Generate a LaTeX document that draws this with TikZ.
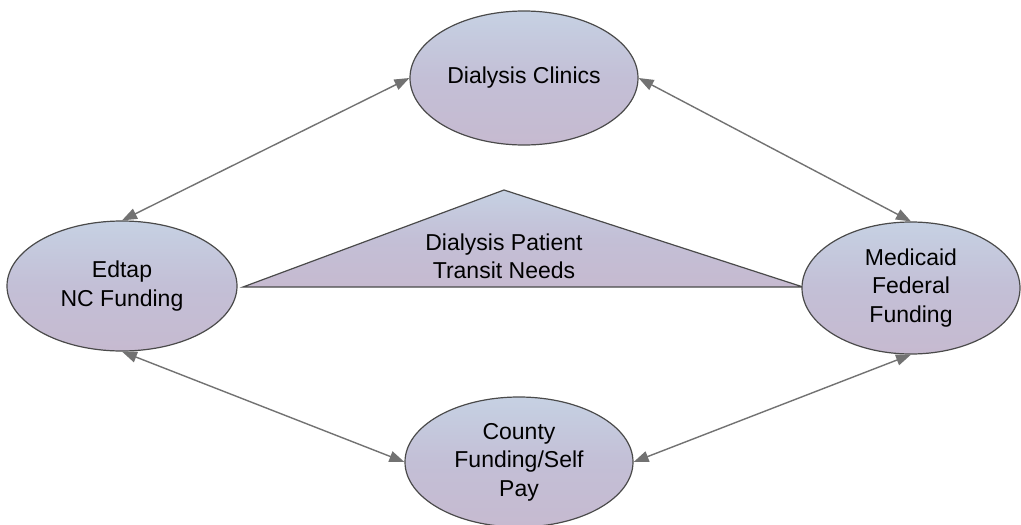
\documentclass[tikz,border=0pt]{standalone}
\usepackage{fontspec}
\setmainfont{Liberation Sans}
\usetikzlibrary{shapes.geometric,arrows.meta}
\definecolor{topfill}{HTML}{C6D1E3}
\definecolor{midfill}{HTML}{C3BFD6}
\definecolor{botfill}{HTML}{C6BAD0}
\definecolor{rimcol}{HTML}{4A4A4A}
\definecolor{linkcol}{HTML}{727272}
\tikzset{
  blob/.style={ellipse, draw=rimcol, line width=1.2pt, inner sep=0pt,
    top color=topfill, bottom color=botfill, middle color=midfill,
    align=center, font=\fontsize{23}{28.5}\selectfont},
  link/.style={linkcol, line width=1.4pt,
    {Triangle[length=15pt,width=11pt]}-{Triangle[length=15pt,width=11pt]}},
  tribox/.style={draw=rimcol, line width=1.2pt, top color=topfill, bottom color=botfill, middle color=midfill}
}
\begin{document}
\begin{tikzpicture}[x=1pt,y=-1pt]
  \useasboundingbox (0,0) rectangle (1021,525);
  \fill[white] (0,0) rectangle (1021,525);

  % central triangle
  \coordinate (tl) at (243,287);
  \coordinate (ta) at (504,190);
  \coordinate (tr) at (803,287);
  \path[tribox] (tl) -- (ta) -- (tr) -- cycle;
  \node[align=center, font=\fontsize{23}{28}\selectfont] (needs) at (504,256)
    {Dialysis Patient\\Transit Needs};

  % the four parties
  \node[blob, minimum width=228pt, minimum height=134pt] (clin) at (524,78) {Dialysis Clinics};
  \node[blob, minimum width=230pt, minimum height=130pt] (edtap) at (122,286) {Edtap\\NC Funding};
  \node[blob, minimum width=218pt, minimum height=132pt] (medi) at (911,288) {Medicaid\\Federal\\Funding};
  \node[blob, minimum width=228pt, minimum height=130pt] (cnty) at (519,462) {County\\Funding/Self\\Pay};

  % two-way links
  \draw[link] (clin.west) -- (edtap.north);
  \draw[link] (clin.east) -- (medi.north);
  \draw[link] (edtap.south) -- (cnty.west);
  \draw[link] (medi.south) -- (cnty.east);
\end{tikzpicture}
\end{document}
